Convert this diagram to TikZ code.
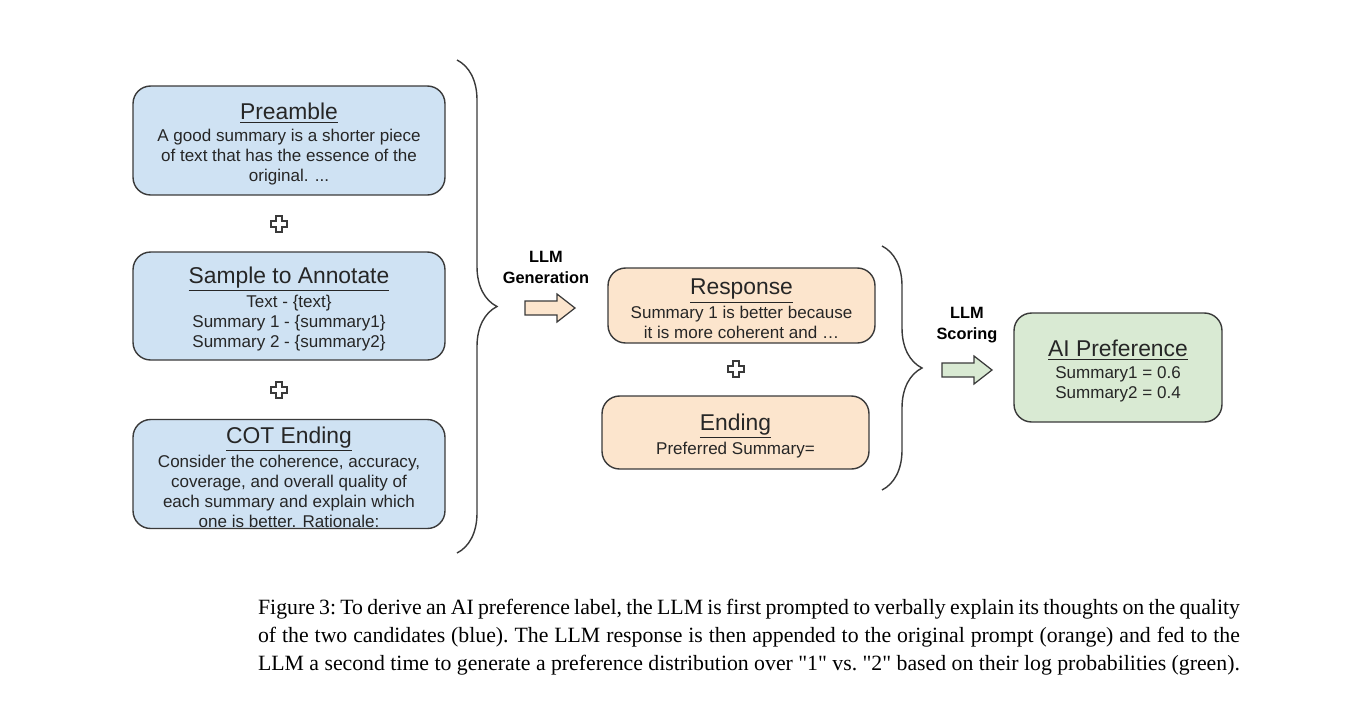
\documentclass[tikz,border=0pt]{standalone}
\usepackage{fontspec}
\setmainfont{Liberation Sans}
\newfontfamily\capfont{Liberation Serif}
\usetikzlibrary{decorations.pathreplacing}
\definecolor{promptblue}{HTML}{CFE2F3}
\definecolor{outorange}{HTML}{FCE5CD}
\definecolor{prefgreen}{HTML}{D9EAD3}
\definecolor{edgegray}{HTML}{3A3A3A}
\newcommand{\boxhead}[1]{{\fontsize{13}{16}\selectfont\rule{0pt}{13pt}\underline{#1}}}
\tikzset{
  card/.style={draw=edgegray, line width=0.8pt, rounded corners=10pt, align=center, inner ysep=0.5pt,
    font=\fontsize{9.7}{11.4}\selectfont, text=black!85},
  stepname/.style={font=\bfseries\fontsize{9.3}{12}\selectfont, align=center},
  bigbrace/.style={decorate, decoration={brace, amplitude=0.8cm}, draw=edgegray, line width=0.8pt},
  pics/plussign/.style={code={
    \draw[edgegray, line width=0.7pt, fill=white] (-3,-8) -- (3,-8) -- (3,-3) -- (8,-3) -- (8,3)
      -- (3,3) -- (3,8) -- (-3,8) -- (-3,3) -- (-8,3) -- (-8,-3) -- (-3,-3) -- cycle;
  }},
  pics/fatarrow/.style={code={
    \draw[edgegray, line width=0.7pt, fill=#1] (0,-7) -- (32,-7) -- (32,-14) -- (50,0)
      -- (32,14) -- (32,7) -- (0,7) -- cycle;
  }},
}
\begin{document}
\begin{tikzpicture}[x=0.02cm, y=-0.02cm]
    \useasboundingbox (0,0) rectangle (1358,711);
    %% Prompt parts
    \node[card, fill=promptblue, minimum width=6.24cm, minimum height=2.18cm] (preamble) at (289,140.5)
        {\boxhead{Preamble}\\[1pt]A good summary is a shorter piece\\of text that has the essence of the\\original. ...};
    \node[card, fill=promptblue, minimum width=6.24cm, minimum height=2.16cm] (sample) at (289,306)
        {\boxhead{Sample to Annotate}\\[1pt]Text - \{text\}\\Summary 1 - \{summary1\}\\Summary 2 - \{summary2\}};
    \node[card, fill=promptblue, minimum width=6.24cm, minimum height=2.16cm] (cot) at (289,474)
        {\boxhead{COT Ending}\\[1pt]Consider the coherence, accuracy,\\coverage, and overall quality of\\each summary and explain which\\one is better. Rationale:};
    \pic at (279,224) {plussign};
    \pic at (279,390) {plussign};
    \draw[bigbrace] (457,60) -- (457,553);
    %% Generation
    \node[stepname] (gen) at (546,267) {LLM\\Generation};
    \pic at (525,308) {fatarrow=outorange};
    \node[card, fill=outorange, minimum width=5.34cm, minimum height=1.5cm] (response) at (741.5,305.5)
        {\boxhead{Response}\\[1pt]Summary 1 is better because\\it is more coherent and …};
    \node[card, fill=outorange, minimum width=5.34cm, minimum height=1.46cm] (ending) at (735.5,432.5)
        {\boxhead{Ending}\\[1pt]Preferred Summary=};
    \pic at (736,369) {plussign};
    \draw[bigbrace] (882,246) -- (882,490);
    %% Scoring
    \node[stepname] (score) at (967,325) {LLM\\Scoring};
    \pic at (942,370) {fatarrow=prefgreen};
    \node[card, fill=prefgreen, minimum width=4.16cm, minimum height=2.18cm] (pref) at (1118,367.5)
        {\boxhead{AI Preference}\\[1pt]Summary1 = 0.6\\Summary2 = 0.4};
    %% Caption
    \node[text width=19.64cm, align=justify, font=\capfont\fontsize{12.4}{15.9}\selectfont\frenchspacing] (caption) at (749,637)
        {\hyphenpenalty=10000 Figure 3: To derive an AI preference label, the LLM is first prompted to verbally explain its thoughts on the quality\linebreak
        of the two candidates (blue). The LLM response is then appended to the original prompt (orange) and fed to the\linebreak
        LLM a second time to generate a preference distribution over "1" vs. "2" based on their log probabilities (green).};
\end{tikzpicture}
\end{document}
